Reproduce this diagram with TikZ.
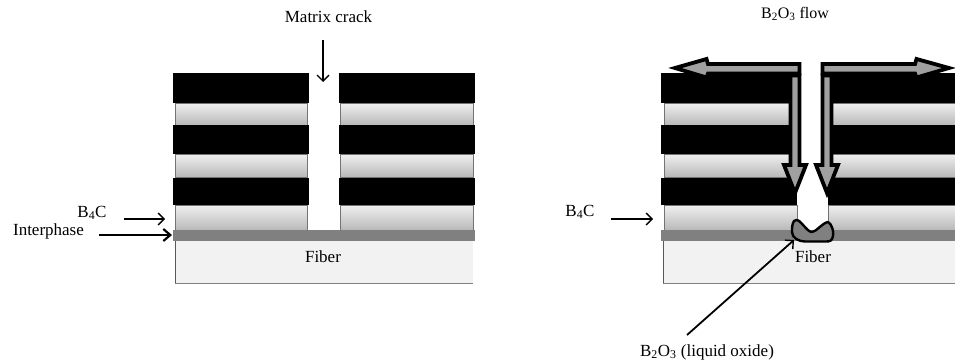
\documentclass[tikz,border=0pt]{standalone}
\usepackage{fontspec}
\setmainfont{Liberation Serif}
\usetikzlibrary{arrows.meta}
\definecolor{interph}{HTML}{808080}
\definecolor{fibercol}{HTML}{F2F2F2}
\definecolor{flowgray}{HTML}{A0A0A0}
\tikzset{
  x=1pt,y=-1pt,
  lbl/.style={font=\fontsize{17}{20}\selectfont,inner sep=0pt,text=black},
  blackbar/.style={fill=black,draw=none},
  gradrow/.style={top color=gray!12,bottom color=gray!55,draw=gray!90!black,line width=0.8},
  interlayer/.style={fill=interph,draw=none},
  fiberlayer/.style={fill=fibercol,draw=none},
  ptr/.style={-{Straight Barb[length=6,width=12,line width=1.4]},line width=1.4,draw=black},
  ptrbold/.style={-{Straight Barb[length=7,width=12,line width=2.2]},line width=2.6,draw=black},
  flowarrow/.style={fill=flowgray,draw=black,line width=3.8,line join=miter,miter limit=6},
  blob/.style={fill=interph,draw=black,line width=2.4,line join=round},
}
\begin{document}
\begin{tikzpicture}
\useasboundingbox (0,0) rectangle (955,361);
\fill[white] (0,0) rectangle (955,361);

% ---------- left panel ----------
\foreach \ya/\yb in {103/125,154/177,205/230}{
  \path[gradrow] (175,\ya) rectangle (307,\yb);
  \path[gradrow] (340,\ya) rectangle (473,\yb);
}
\foreach \ya/\yb in {73/103,125/154,178/205}{
  \path[blackbar] (173,\ya) rectangle (308.5,\yb);
  \path[blackbar] (339,\ya) rectangle (475,\yb);
}
\path[fiberlayer] (175,241) rectangle (473,283);
\draw[gray!70!black,line width=0.6] (175,241) -- (175,283);
\draw[interph,line width=1.8] (174.5,283.5) -- (473,283.5);
\path[interlayer] (173,230) rectangle (475,241);

\node[lbl] (crackL) at (328.5,17) {Matrix crack};
\node[lbl] (fiberL) at (323,257) {Fiber};
\node[lbl] (b4cL) at (92,213) {B\textsubscript{4}C};
\node[lbl] (interL) at (48.5,231) {Interphase};
\coordinate (crackEnd) at (323,82);
\coordinate (crackStart) at (323,40);
\coordinate (b4cEndL) at (165,219);
\coordinate (b4cStartL) at (124,219);
\coordinate (interEnd) at (172,235);
\coordinate (interStart) at (99,235);
\draw[ptr] (crackStart) -- (crackEnd);
\draw[ptr] (b4cStartL) -- (b4cEndL);
\draw[ptrbold] (interStart) -- (interEnd);

% ---------- right panel ----------
\foreach \ya/\yb in {103/125,154/177}{
  \path[gradrow] (664,\ya) rectangle (790,\yb);
  \path[gradrow] (832,\ya) rectangle (957,\yb);
}
\path[gradrow] (664,205) rectangle (797,230);
\path[gradrow] (828,205) rectangle (957,230);
\foreach \ya/\yb in {73/103,125/154,178/205}{
  \path[blackbar] (661,\ya) rectangle (792,\yb);
  \path[blackbar] (833,\ya) rectangle (957,\yb);
}
\path[blackbar] (780,178) rectangle (797,205);
\path[blackbar] (828,178) rectangle (845,205);
\path[fiberlayer] (663,241) rectangle (957,283);
\draw[gray!70!black,line width=0.6] (663.5,241) -- (663.5,283);
\draw[interph,line width=1.8] (663,283.5) -- (957,283.5);
\path[interlayer] (661,230) rectangle (957,241);

% flow arrows
\path[flowarrow] (799.5,64) -- (708,64) -- (706.5,59) -- (675,68) -- (706.5,77.5) -- (708,73.5) -- (799.5,73.5) -- cycle;
\path[flowarrow] (822.5,64) -- (915,64) -- (916.5,59) -- (949,68) -- (916.5,77.5) -- (915,73.5) -- (822.5,73.5) -- cycle;
\path[flowarrow] (790.5,75.5) -- (790.5,165) -- (784,165) -- (795,193) -- (806,165) -- (799.5,165) -- (799.5,75.5) -- cycle;
\path[flowarrow] (822.5,75.5) -- (822.5,165) -- (816,165) -- (827,193) -- (838,165) -- (831.5,165) -- (831.5,75.5) -- cycle;

% oxide blob
\path[blob] (794,221) .. controls (798,218) and (800,222) .. (804,226)
  .. controls (807,229) and (809,232) .. (812,232)
  .. controls (816,232) and (822,223) .. (828,222)
  .. controls (832,224) and (834,232) .. (833,236)
  .. controls (832,241) and (830,241.5) .. (826,241.5)
  -- (805,241.5) .. controls (799,241.5) and (792,238) .. (792,232)
  .. controls (792,228) and (792,224) .. (794,221) -- cycle;

\node[lbl,font=\fontsize{16}{20}\selectfont] (flowLabel) at (795,14) {B\textsubscript{2}O\textsubscript{3} flow};
\node[lbl] (fiberR) at (813,257) {Fiber};
\node[lbl] (b4cR) at (580,212) {B\textsubscript{4}C};
\node[lbl] (oxideLabel) at (707,352) {B\textsubscript{2}O\textsubscript{3} (liquid oxide)};
\coordinate (b4cEndR) at (653,219);
\coordinate (b4cStartR) at (611,219);
\coordinate (oxideEnd) at (794,240);
\coordinate (oxideStart) at (687,335);
\draw[ptr] (b4cStartR) -- (b4cEndR);
\draw[ptr,line width=1.8] (oxideStart) -- (oxideEnd);
\end{tikzpicture}
\end{document}
